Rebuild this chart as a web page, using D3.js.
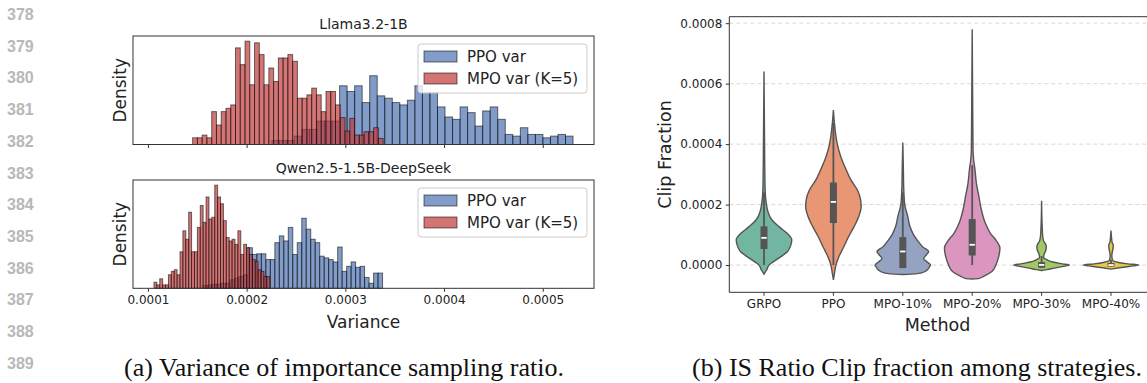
<!DOCTYPE html>
<html>
<head>
<meta charset="utf-8">
<script src="https://cdn.jsdelivr.net/npm/d3@7"></script>
<style>
  body { margin: 0; background: #fff; }
  svg { display: block; }
  text { font-family: "DejaVu Sans", sans-serif; fill: #222; }
</style>
</head>
<body>
<div id="fig"></div>
<script>
// ---------------- data ----------------
const lineNumbers = d3.range(378, 390);
const captions = ["(a) Variance of importance sampling ratio.", "(b) IS Ratio Clip fraction among strategies."];

// left: histograms of the IS ratio variance (40 bins per series, density in relative units)
const histTitles = ["Llama3.2-1B", "Qwen2.5-1.5B-DeepSeek"];
const histSeries = ["PPO var", "MPO var (K=5)"];
const varTicks = [0.0001, 0.0002, 0.0003, 0.0004, 0.0005];

const llamaPpoRange = [0.0002255, 0.0005307];
const llamaMpoRange = [0.0001453, 0.0003383];
const qwenPpoRange = [0.0001558, 0.0003377];
const qwenMpoRange = [0.0001061, 0.0002234];

const llamaPpoDensity = [12,12,12,25,45,45,70,70,70,175,158,175,125,205,145,138,125,118,132,175,
                         155,155,112,82,75,112,95,55,100,112,75,30,25,50,30,30,20,25,30,25];
const llamaMpoDensity = [20,20,28,20,98,58,98,108,118,288,238,308,178,303,268,178,228,188,258,258,
                         268,248,138,138,148,168,148,98,158,158,118,80,40,78,28,28,38,38,50,18];
const qwenPpoDensity  = [8,10,12,12,15,15,25,30,35,40,120,100,102,102,85,85,135,155,140,180,
                         100,135,207,175,145,135,95,90,85,78,122,50,65,78,62,65,32,15,45,45];
const qwenMpoDensity  = [18,10,28,10,10,40,50,55,40,108,170,145,225,108,108,180,245,195,270,205,
                         210,305,270,250,200,150,140,145,130,170,100,130,120,100,85,80,55,50,35,35];

// right: violins of clip fraction, [value, relative density]
const methods = ["GRPO", "PPO", "MPO-10%", "MPO-20%", "MPO-30%", "MPO-40%"];
const clipTicks = [0, 0.0002, 0.0004, 0.0006, 0.0008];

const grpoKde = [[-0.00003,0],[-0.0000155,0.1],[0,0.18],[0.000023,0.53],[0.000045,0.85],[0.000067,0.97],
  [0.000084,1],[0.000106,0.82],[0.000128,0.53],[0.00015,0.28],[0.000177,0.14],[0.000205,0.08],
  [0.00025,0.04],[0.0004,0.02],[0.00064,0]];
const ppoKde = [[-0.0000486,0],[-0.0000265,0.04],[0,0.09],[0.0000284,0.2],[0.0000615,0.38],[0.0000945,0.55],
  [0.000128,0.75],[0.00016,0.91],[0.000194,1],[0.000216,0.98],[0.000249,0.86],[0.000282,0.63],
  [0.000315,0.46],[0.00036,0.26],[0.0004,0.14],[0.000458,0.05],[0.000513,0]];
const mpo10Kde = [[-0.000031,0],[-0.000029,0.45],[-0.000025,0.7],[-0.000016,0.88],[-0.000006,0.96],[0,1],
  [0.00001,0.88],[0.000022,0.75],[0.000035,0.86],[0.000045,0.93],[0.00006,0.72],[0.00008,0.54],
  [0.0001,0.39],[0.00013,0.25],[0.00016,0.18],[0.0002,0.07],[0.00025,0.035],[0.00032,0.02],[0.000405,0]];
const mpo20Kde = [[-0.0000463,0],[-0.000044,0.25],[-0.0000375,0.41],[-0.000021,0.71],[0,0.85],[0.000023,0.94],
  [0.0000562,1],[0.000078,0.89],[0.000106,0.65],[0.000139,0.47],[0.000183,0.33],[0.000227,0.24],
  [0.000271,0.15],[0.000315,0.1],[0.00035,0.05],[0.00038,0.03],[0.0005,0.02],[0.00078,0]];
const mpo30Kde = [[-0.0000178,0],[-0.000015,0.2],[-0.00001,0.45],[-0.000005,0.75],[0,1],[0.000004,0.75],
  [0.00001,0.4],[0.0000175,0.2],[0.000025,0.07],[0.000038,0.1],[0.000048,0.15],[0.00006,0.17],
  [0.00007,0.14],[0.000078,0.08],[0.000095,0.04],[0.00013,0.02],[0.000213,0]];
const mpo40Kde = [[-0.0000132,0],[-0.000009,0.3],[-0.000004,0.7],[0,1],[0.000004,0.6],[0.0000086,0.28],
  [0.000015,0.06],[0.00003,0.03],[0.000045,0.05],[0.00006,0.08],[0.000066,0.08],[0.000075,0.04],
  [0.00009,0.02],[0.000114,0]];
const violinKdes = [grpoKde, ppoKde, mpo10Kde, mpo20Kde, mpo30Kde, mpo40Kde];

const boxQ1     = [0.000053, 0.000139, -0.00001, 0.0000317, -0.000009, -0.000005];
const boxMedian = [0.00009, 0.000209, 0.000045, 0.0000671, 0.0000005, 0];
const boxQ3     = [0.000128, 0.000273, 0.0000925, 0.000152, 0.00001, 0.000007];
const whiskerLo = [0, 0, 0, 0, -0.00001, -0.000005];
const whiskerHi = [0.00024, 0.00047, 0.00024, 0.00033, 0.00003, 0.000018];

// ---------------- drawing ----------------
const W = 1147, H = 383;
const svg = d3.select("#fig").append("svg").attr("width", W).attr("height", H);
svg.append("rect").attr("width", W).attr("height", H).attr("fill", "#fff");

// page line numbers
svg.append("g").selectAll("text").data(lineNumbers).enter().append("text")
  .attr("x", 7).attr("y", (d, i) => 20 + i * 31.7)
  .style("font-family", "'Liberation Sans', Arial, sans-serif")
  .style("font-weight", "bold").style("font-size", "16px").style("fill", "#b8b8b8")
  .text(d => d);

// captions
svg.selectAll(".cap").data(captions).enter().append("text").attr("class", "cap")
  .attr("x", (d, i) => i ? 917 : 344).attr("y", 376).attr("text-anchor", "middle")
  .style("font-family", "'Liberation Serif', 'Times New Roman', serif").style("font-size", "26px").style("fill", "#111")
  .text(d => d);

// ---- histograms ----
const ppoColor = "#4c72b0", mpoColor = "#c23b3b";
const allRanges = [llamaPpoRange, llamaMpoRange, qwenPpoRange, qwenMpoRange];
const vMin = d3.min(allRanges, r => r[0]), vMax = d3.max(allRanges, r => r[1]);
const vPad = (vMax - vMin) * 0.05;
const xVar = d3.scaleLinear().domain([vMin - vPad, vMax + vPad]).range([133, 594]);

function binsOf(range, dens) {
  const step = (range[1] - range[0]) / dens.length;
  return dens.map((d, i) => ({ x0: range[0] + i * step, x1: range[0] + (i + 1) * step, h: d }));
}

function drawHist(top, bottom, title, ppo, mpo, showLabels) {
  const g = svg.append("g");
  const y = d3.scaleLinear()
    .domain([0, d3.max(ppo.concat(mpo), d => d.h) * 1.05])
    .range([bottom, top]);

  [[ppo, ppoColor], [mpo, mpoColor]].forEach(function (s) {
    g.append("g").selectAll("rect").data(s[0]).enter().append("rect")
      .attr("x", d => xVar(d.x0))
      .attr("width", d => xVar(d.x1) - xVar(d.x0))
      .attr("y", d => y(d.h))
      .attr("height", d => y(0) - y(d.h))
      .attr("fill", s[1]).attr("fill-opacity", 0.7)
      .attr("stroke", "#000").attr("stroke-opacity", 0.55).attr("stroke-width", 1);
  });

  const ax = g.append("g").attr("transform", "translate(0," + bottom + ")")
    .call(d3.axisBottom(xVar).tickValues(varTicks).tickSize(3.5).tickPadding(3.5)
      .tickFormat(showLabels ? d3.format(".4f") : ""));
  ax.select(".domain").remove();
  ax.selectAll("line").attr("stroke", "#333");
  ax.selectAll("text").style("font-size", "12px").style("font-family", "DejaVu Sans").attr("fill", "#222");

  g.append("rect").attr("x", 133).attr("y", top).attr("width", 594 - 133).attr("height", bottom - top)
    .attr("fill", "none").attr("stroke", "#333").attr("stroke-width", 1);

  g.append("text").attr("x", (133 + 594) / 2).attr("y", top - 7).attr("text-anchor", "middle")
    .style("font-size", "14px").text(title);

  g.append("text").attr("transform", "translate(126," + (top + bottom) / 2 + ") rotate(-90)")
    .attr("text-anchor", "middle").style("font-size", "17px").text("Density");

  // legend
  const lg = g.append("g").attr("transform", "translate(418," + (top + 8) + ")");
  lg.append("rect").attr("width", 169).attr("height", 49).attr("rx", 3)
    .attr("fill", "#fff").attr("fill-opacity", 0.8).attr("stroke", "#ccc");
  histSeries.forEach(function (name, i) {
    lg.append("rect").attr("x", 6).attr("y", 7 + i * 22).attr("width", 33).attr("height", 11)
      .attr("fill", i ? mpoColor : ppoColor).attr("fill-opacity", 0.7)
      .attr("stroke", "#000").attr("stroke-opacity", 0.55);
    lg.append("text").attr("x", 49).attr("y", 18 + i * 22).style("font-size", "15px").text(name);
  });
}

drawHist(36, 144.5, histTitles[0], binsOf(llamaPpoRange, llamaPpoDensity), binsOf(llamaMpoRange, llamaMpoDensity), false);
drawHist(180, 288.3, histTitles[1], binsOf(qwenPpoRange, qwenPpoDensity), binsOf(qwenMpoRange, qwenMpoDensity), true);

svg.append("text").attr("x", (133 + 594) / 2).attr("y", 328).attr("text-anchor", "middle")
  .style("font-size", "17px").text("Variance");

// ---- violins ----
const set2 = ["#66c2a5", "#fc8d62", "#8da0cb", "#e78ac3", "#a6d854", "#ffd92f"].map(function (c) {
  const h = d3.hsl(c); h.s *= 0.75; return h.formatHex();
});
const gray = "#555";
const left = 729.3, right = 1145.7, top2 = 16.7, bottom2 = 292.3;

const cMin = d3.min(violinKdes, k => k[0][0]), cMax = d3.max(violinKdes, k => k[k.length - 1][0]);
const cPad = (cMax - cMin) * 0.05;
const yClip = d3.scaleLinear().domain([cMin - cPad, cMax + cPad]).range([bottom2, top2]);
const xM = d3.scaleBand().domain(methods).range([left, right]);
const half = d3.scaleLinear().domain([0, 1]).range([0, xM.bandwidth() * 0.4]);

const g2 = svg.append("g");
g2.append("g").selectAll("line").data(clipTicks).enter().append("line")
  .attr("x1", left).attr("x2", W).attr("y1", d => yClip(d)).attr("y2", d => yClip(d))
  .attr("stroke", "#d9d9d9").attr("stroke-dasharray", "4,3").attr("stroke-width", 1);

methods.forEach(function (m, i) {
  const cx = xM(m) + xM.bandwidth() / 2;
  const area = d3.area()
    .y(d => yClip(d[0]))
    .x0(d => cx - half(d[1]))
    .x1(d => cx + half(d[1]))
    .curve(d3.curveMonotoneY);
  g2.append("path").datum(violinKdes[i]).attr("d", area)
    .attr("fill", set2[i]).attr("stroke", gray).attr("stroke-width", 1.4);
  g2.append("line").attr("x1", cx).attr("x2", cx)
    .attr("y1", yClip(whiskerLo[i])).attr("y2", yClip(whiskerHi[i]))
    .attr("stroke", gray).attr("stroke-width", 1.8);
  g2.append("rect").attr("x", cx - 3.5).attr("width", 7)
    .attr("y", yClip(boxQ3[i])).attr("height", yClip(boxQ1[i]) - yClip(boxQ3[i]))
    .attr("fill", gray);
  g2.append("rect").attr("x", cx - 2.7).attr("width", 5.4)
    .attr("y", yClip(boxMedian[i]) - 0.9).attr("height", 1.8).attr("fill", "#fff");
});

const ay = g2.append("g").attr("transform", "translate(" + left + ",0)")
  .call(d3.axisLeft(yClip).tickValues(clipTicks).tickSize(3.5).tickPadding(3.5).tickFormat(d3.format(".4f")));
ay.select(".domain").remove();
ay.selectAll("line").attr("stroke", "#333");
ay.selectAll("text").style("font-size", "12px").style("font-family", "DejaVu Sans").attr("fill", "#222");

const ax2 = g2.append("g").attr("transform", "translate(0," + bottom2 + ")")
  .call(d3.axisBottom(xM).tickSize(3.5).tickPadding(3.5));
ax2.select(".domain").remove();
ax2.selectAll("line").attr("stroke", "#333");
ax2.selectAll("text").style("font-size", "12px").style("font-family", "DejaVu Sans").attr("fill", "#222");

// spines: left, top, bottom (right edge falls outside the page crop)
g2.append("path")
  .attr("d", "M" + W + "," + top2 + "H" + left + "V" + bottom2 + "H" + W)
  .attr("fill", "none").attr("stroke", "#333").attr("stroke-width", 1);

g2.append("text").attr("x", (left + right) / 2).attr("y", 331).attr("text-anchor", "middle")
  .style("font-size", "17.5px").text("Method");
g2.append("text").attr("transform", "translate(671," + (top2 + bottom2) / 2 + ") rotate(-90)")
  .attr("text-anchor", "middle").style("font-size", "17.5px").text("Clip Fraction");
</script>
</body>
</html>
